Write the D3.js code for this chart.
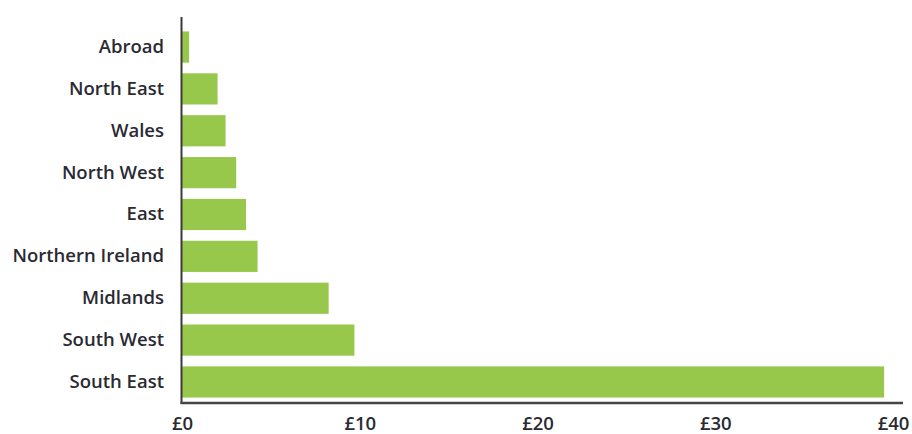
<!DOCTYPE html>
<html>
<head>
<meta charset="utf-8">
<script src="https://cdn.jsdelivr.net/npm/d3@7"></script>
<style>
  body { margin: 0; background: #fff; }
  svg { display: block; }
  .tick text { font-family: "Open Sans", sans-serif; font-size: 18.5px; font-weight: 600; fill: #2a2a33; }
</style>
</head>
<body>
<svg id="chart" width="912" height="434"></svg>
<script>
// regions, top to bottom
const regions = ["Abroad", "North East", "Wales", "North West", "East",
  "Northern Ireland", "Midlands", "South West", "South East"]
// amounts in £
const amounts = [0.4, 2.0, 2.45, 3.05, 3.6, 4.25, 8.25, 9.7, 39.5]
const xTicks = [0, 10, 20, 30, 40]
const xTickLabels = ["£0", "£10", "£20", "£30", "£40"]

const data = regions.map((r, i) => ({ region: r, value: amounts[i] }))

const svg = d3.select("#chart")
const margin = { top: 17, right: 9, bottom: 31, left: 182 }
const width = 912 - margin.left - margin.right
const height = 434 - margin.top - margin.bottom

const g = svg.append("g")
  .attr("transform", `translate(${margin.left},${margin.top})`)

// x scale: 40 sits a little before the end of the axis line
const x = d3.scaleLinear().domain([0, 40]).range([0, 711])
const y = d3.scaleBand()
  .domain(regions)
  .range([9, height])
  .paddingInner(0.255)
  .paddingOuter(0.13)

// bars
g.selectAll(".bar")
  .data(data)
  .enter()
  .append("rect")
  .attr("class", "bar")
  .attr("x", x(0))
  .attr("y", d => y(d.region))
  .attr("width", d => x(d.value) - x(0))
  .attr("height", y.bandwidth())
  .attr("fill", "#98c84b")

// y axis labels
const yAxis = g.append("g")
  .call(d3.axisLeft(y).tickSize(0).tickPadding(18))
yAxis.select(".domain").remove()

// x axis labels
const xAxis = g.append("g")
  .attr("transform", `translate(0,${height})`)
  .call(d3.axisBottom(x)
    .tickValues(xTicks)
    .tickFormat((d, i) => xTickLabels[i])
    .tickSize(0)
    .tickPadding(14))
xAxis.select(".domain").remove()

// axis lines
g.append("line")
  .attr("x1", -0.5).attr("x2", -0.5)
  .attr("y1", 0).attr("y2", height + 1)
  .attr("stroke", "#3a3a3a").attr("stroke-width", 2)

g.append("line")
  .attr("x1", -1.5).attr("x2", width)
  .attr("y1", height).attr("y2", height)
  .attr("stroke", "#444").attr("stroke-width", 2.5)
</script>
</body>
</html>
